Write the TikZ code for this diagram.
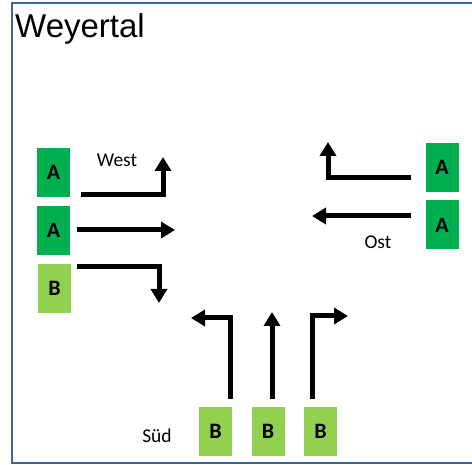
\documentclass[tikz,border=0pt]{standalone}
\usepackage{fontspec}
\setmainfont{Carlito}
\newfontfamily\titlefont{Liberation Sans}
\usetikzlibrary{arrows.meta}
\definecolor{frameblue}{RGB}{63,98,160}
\definecolor{darkgreen}{RGB}{0,176,80}
\definecolor{lightgreen}{RGB}{146,208,80}
\tikzset{
  lanebox/.style={rectangle, minimum width=33pt, minimum height=49pt, inner sep=0pt, font=\fontsize{22}{24}\selectfont\bfseries},
  laneA/.style={lanebox, fill=darkgreen},
  laneB/.style={lanebox, fill=lightgreen},
  turn/.style={line width=5pt, miter limit=10, -{Triangle[width=16pt,length=14pt]}},
  dirlabel/.style={font=\fontsize{19.5}{22}\selectfont, inner sep=0pt}
}
\begin{document}
\begin{tikzpicture}[x=1pt,y=-1pt]
\useasboundingbox (0,0) rectangle (472,465);
\draw[frameblue, line width=2pt] (480,3) -- (12,3) -- (12,463) -- (480,463);
\node[anchor=base west, inner sep=0pt, font=\titlefont\fontsize{33}{36}\selectfont] (title) at (15,38) {Weyertal};

% West
\node[laneA] (wa1) at (53.5,172.5) {A};
\node[laneA] (wa2) at (53.5,230.5) {A};
\node[laneB] (wb1) at (54.5,288.5) {B};
\node[dirlabel] (west) at (117,160) {West};
% Ost
\node[laneA] (oa1) at (442,167.5) {A};
\node[laneA] (oa2) at (442,225) {A};
\node[dirlabel] (ost) at (378,242) {Ost};
% Sued
\node[laneB] (sb1) at (215.5,431.5) {B};
\node[laneB] (sb2) at (268,431.5) {B};
\node[laneB] (sb3) at (320.5,431.5) {B};
\node[dirlabel] (sued) at (157,436) {Süd};

% coordinates
\coordinate (w1s) at (81,195);
\coordinate (w1c) at (163,195);
\coordinate (w1e) at (163,157);
\coordinate (w2s) at (77,230);
\coordinate (w2e) at (175,230);
\coordinate (w3s) at (77,267);
\coordinate (w3c) at (159,267);
\coordinate (w3e) at (159,303);

\coordinate (o1s) at (411,178);
\coordinate (o1c) at (328,178);
\coordinate (o1e) at (328,142);
\coordinate (o2s) at (411,216);
\coordinate (o2e) at (312,216);

\coordinate (s1s) at (230,399);
\coordinate (s1c) at (230,318);
\coordinate (s1e) at (191,318);
\coordinate (s2s) at (272,399);
\coordinate (s2e) at (272,312);
\coordinate (s3s) at (312,399);
\coordinate (s3c) at (312,316);
\coordinate (s3e) at (348,316);

\draw[turn] (w1s) -- (w1c) -- (w1e);
\draw[turn] (w2s) -- (w2e);
\draw[turn] (w3s) -- (w3c) -- (w3e);
\draw[turn] (o1s) -- (o1c) -- (o1e);
\draw[turn] (o2s) -- (o2e);
\draw[turn] (s1s) -- (s1c) -- (s1e);
\draw[turn] (s2s) -- (s2e);
\draw[turn] (s3s) -- (s3c) -- (s3e);
\end{tikzpicture}
\end{document}
